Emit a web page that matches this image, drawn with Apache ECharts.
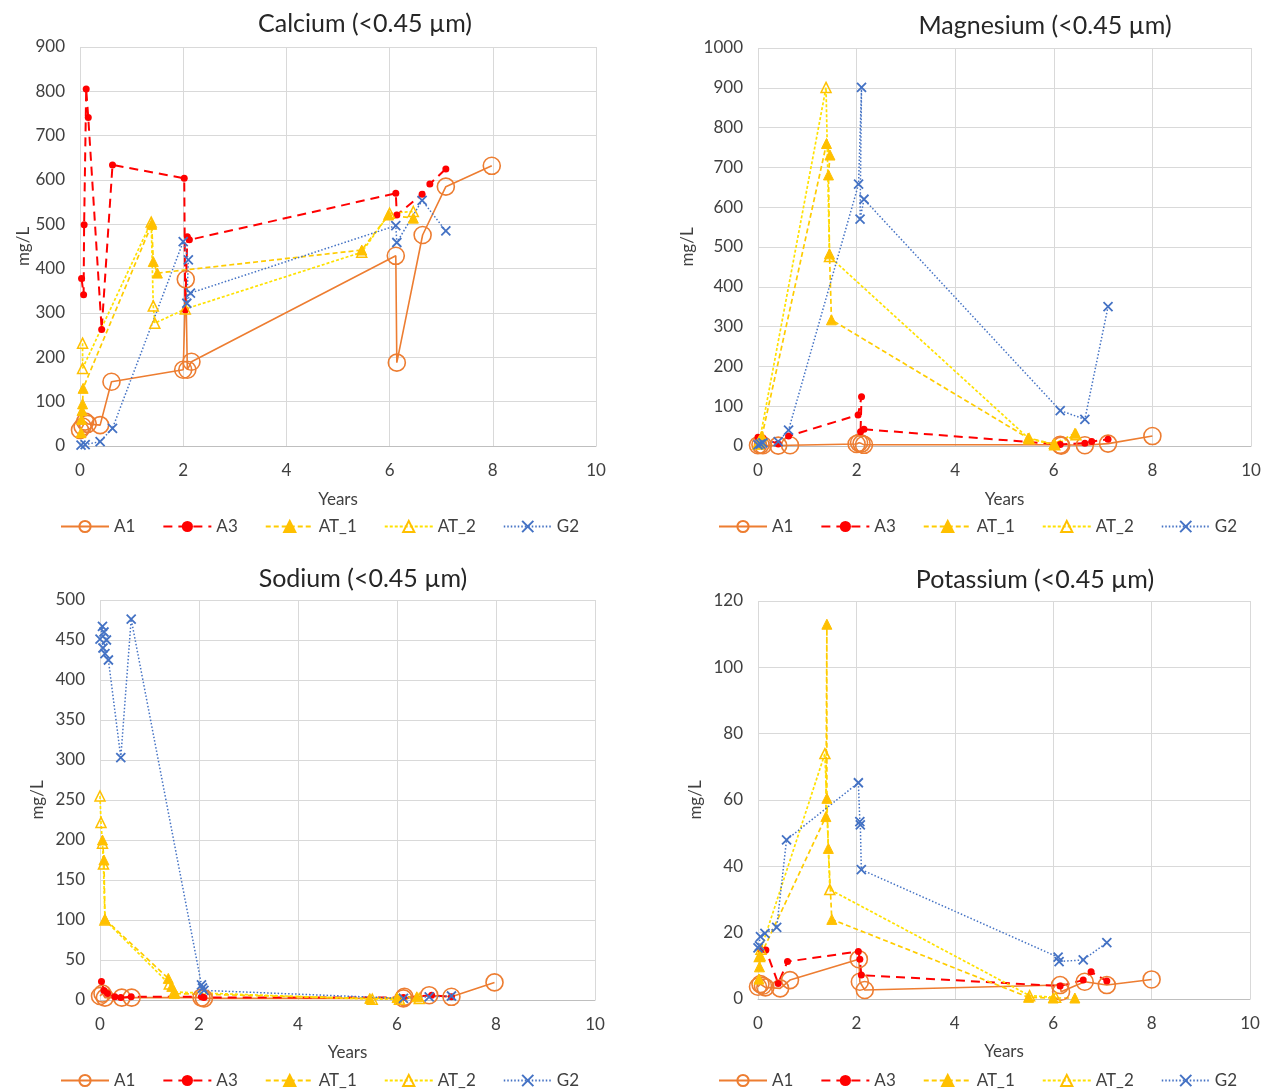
<!DOCTYPE html>
<html>
<head>
<meta charset="utf-8">
<script src="https://cdn.jsdelivr.net/npm/echarts@6/dist/echarts.min.js"></script>
<style>
html,body{margin:0;padding:0;background:#fff;}
#chart{width:1271px;height:1090px;}
</style>
</head>
<body>
<div id="chart"></div>
<script>
// ---------- DATA ----------
const seriesNames = ['A1', 'A3', 'AT_1', 'AT_2', 'G2'];
const panelTitles = ['Calcium (<0.45 µm)', 'Magnesium (<0.45 µm)', 'Sodium (<0.45 µm)', 'Potassium (<0.45 µm)'];
const yMax = [900, 1000, 500, 120];
const yStep = [100, 100, 50, 20];
const xTicks = [0, 2, 4, 6, 8, 10];

// Calcium
const caA1 = [[0.0,36],[0.05,44],[0.1,55],[0.15,50],[0.39,47],[0.61,145],[2.0,172],[2.05,376],[2.08,172],[2.16,190],[6.12,429],[6.14,188],[6.64,476],[7.09,585],[7.98,632]];
const caA3 = [[0.03,378],[0.07,341],[0.08,499],[0.12,805],[0.16,741],[0.42,263],[0.63,634],[2.02,604],[2.04,307],[2.08,472],[2.12,465],[6.12,570],[6.14,521],[6.63,568],[6.78,591],[7.09,625]];
const caAT1 = [[0.02,30],[0.03,60],[0.04,80],[0.05,95],[0.06,130],[1.39,500],[1.42,416],[1.5,390],[5.46,442],[5.98,521],[6.46,514]];
const caAT2 = [[0.05,232],[0.05,175],[1.38,505],[1.42,316],[1.45,277],[2.04,309],[5.46,437],[6.0,525],[6.46,529]];
const caG2 = [[0.02,2],[0.1,3],[0.39,10],[0.63,40],[2.0,461],[2.1,420],[2.07,322],[2.14,345],[6.12,497],[6.14,459],[6.63,554],[7.09,485]];

// Magnesium
const mgA1 = [[0.0,2],[0.05,3],[0.1,2],[0.41,1],[0.65,2],[2.0,5],[2.05,8],[2.1,6],[2.15,3],[6.13,3],[6.15,1],[6.63,2],[7.1,6],[8.0,25]];
const mgA3 = [[0.0,22],[0.1,20],[0.41,5],[0.62,25],[2.03,78],[2.1,124],[2.08,36],[2.15,42],[6.13,4],[6.63,7],[6.77,11],[7.1,17]];
const mgAT1 = [[0.02,5],[0.05,15],[0.08,25],[1.39,760],[1.46,731],[1.43,681],[1.45,483],[1.49,317],[5.48,20],[6.0,5],[6.43,32]];
const mgAT2 = [[0.0,5],[0.03,12],[1.38,901],[1.45,476],[5.5,18],[6.02,3],[6.45,28]];
const mgG2 = [[0.0,3],[0.05,5],[0.1,8],[0.41,11],[0.62,40],[2.04,658],[2.1,901],[2.07,570],[2.15,620],[6.13,89],[6.63,67],[7.1,350]];

// Sodium
const naA1 = [[0.0,5],[0.05,8],[0.1,3],[0.44,3],[0.64,3],[2.05,3],[2.1,2],[6.13,2],[6.15,4],[6.65,6],[7.1,4],[7.97,22]];
const naA3 = [[0.03,23],[0.08,12],[0.15,8],[0.3,4],[0.42,3],[0.63,4],[2.05,4],[2.1,3],[6.13,3],[6.7,6],[7.1,4]];
const naAT1 = [[0.05,200],[0.08,175],[0.1,101],[1.38,27],[1.45,17],[1.5,8],[5.45,2],[6.0,3],[6.4,4]];
const naAT2 = [[0.0,255],[0.02,222],[0.05,196],[0.07,170],[0.1,100],[1.4,20],[1.5,10],[5.5,1],[6.05,1],[6.45,2]];
const naG2 = [[0.0,451],[0.05,467],[0.08,460],[0.13,450],[0.06,440],[0.1,433],[0.17,425],[0.42,303],[0.63,476],[2.05,19],[2.07,15],[2.1,12],[6.13,2],[6.65,4],[7.1,5]];

// Potassium
const kA1 = [[0.0,3.7],[0.05,4.5],[0.1,4],[0.15,3.5],[0.45,3.2],[0.65,5.7],[2.05,12],[2.07,5.2],[2.17,2.7],[6.14,4.2],[6.16,2.2],[6.64,5.2],[7.09,4.2],[8.0,5.9]];
const kA3 = [[0.05,15],[0.16,14.8],[0.41,4.7],[0.6,11.3],[2.04,14.3],[2.07,12],[2.1,7.2],[6.14,3.9],[6.61,5.7],[6.77,8.2],[7.09,5.4]];
const kAT1 = [[0.02,6],[0.03,9.7],[0.05,13],[1.38,55],[1.4,113],[1.4,60.5],[1.43,45.4],[1.5,24],[5.5,0.5],[6.0,0.3],[6.44,0.3]];
const kAT2 = [[0.03,12.8],[0.06,15],[1.36,74],[1.46,33],[5.52,1],[6.05,0.5]];
const kG2 = [[0.0,15.4],[0.03,16],[0.05,18.8],[0.14,19.8],[0.38,21.6],[0.58,48],[2.04,65.2],[2.07,53.5],[2.08,52.5],[2.1,39],[6.1,12.6],[6.12,11.3],[6.61,11.8],[7.09,17]];

const panelData = [
  [caA1, caA3, caAT1, caAT2, caG2],
  [mgA1, mgA3, mgAT1, mgAT2, mgG2],
  [naA1, naA3, naAT1, naAT2, naG2],
  [kA1, kA3, kAT1, kAT2, kG2]
];

// ---------- LAYOUT / STYLE ----------
const FONT = 'Lato, "Open Sans", sans-serif';
const grids = [
  {left: 80, top: 47, width: 516, height: 399},
  {left: 758, top: 48, width: 493, height: 398},
  {left: 100, top: 600, width: 495, height: 400},
  {left: 758, top: 601, width: 492, height: 398}
];
const titlePos = [[360, 6], [1040, 8], [358, 561], [1030, 562]];
const legendPos = [[55, 513], [713, 513], [55, 1067], [713, 1067]];
const yNameGap = [42, 62, 54, 54];

const styles = {
  A1: {symbol: 'circle', symbolSize: 17,
       itemStyle: {color: 'rgba(255,255,255,0)', borderColor: '#ED7D31', borderWidth: 1.6},
       lineStyle: {color: '#ED7D31', width: 1.6, type: 'solid'}},
  A3: {symbol: 'circle', symbolSize: 7,
       itemStyle: {color: '#FF0000', borderColor: '#FF0000', borderWidth: 0},
       lineStyle: {color: '#FF0000', width: 2, type: [9, 6]}},
  AT_1: {symbol: 'triangle', symbolSize: 10,
       itemStyle: {color: '#FFC000', borderColor: '#FFC000', borderWidth: 1},
       lineStyle: {color: '#FFCC00', width: 1.7, type: [5, 3]}},
  AT_2: {symbol: 'triangle', symbolSize: 10,
       itemStyle: {color: 'rgba(255,255,255,0)', borderColor: '#FFC000', borderWidth: 1.5},
       lineStyle: {color: '#FFE100', width: 1.7, type: [3, 2]}},
  G2: {symbol: 'path://M0,0L10,10M10,0L0,10', symbolSize: 9,
       itemStyle: {color: 'rgba(255,255,255,0)', borderColor: '#4472C4', borderWidth: 1.8},
       lineStyle: {color: '#4472C4', width: 1.5, type: [1.5, 2]}}
};

const option = {
  animation: false,
  backgroundColor: '#ffffff',
  textStyle: {fontFamily: FONT},
  title: panelTitles.map((t, i) => ({
    text: t, left: titlePos[i][0], top: titlePos[i][1], textAlign: 'center',
    textStyle: {fontFamily: FONT, fontSize: 25, fontWeight: 'normal', color: '#262626'}
  })),
  legend: legendPos.map((p, i) => ({
    data: seriesNames, left: p[0], top: p[1], itemWidth: 48, itemHeight: 14, itemGap: 27,
    selectedMode: false,
    textStyle: {fontFamily: FONT, fontSize: 17, color: '#404040'}
  })),
  grid: grids.map(g => Object.assign({containLabel: false}, g)),
  xAxis: grids.map((g, i) => ({
    gridIndex: i, type: 'value', min: 0, max: 10, interval: 2,
    name: 'Years', nameLocation: 'middle', nameGap: i < 2 ? 45 : 44,
    nameTextStyle: {fontFamily: FONT, fontSize: 17, color: '#404040'},
    axisLine: {show: true, lineStyle: {color: '#BFBFBF', width: 1}},
    axisTick: {show: false},
    axisLabel: {fontFamily: FONT, fontSize: 17, color: '#404040', margin: 16},
    splitLine: {show: true, lineStyle: {color: '#D9D9D9', width: 1}}
  })),
  yAxis: grids.map((g, i) => ({
    gridIndex: i, type: 'value', min: 0, max: yMax[i], interval: yStep[i],
    name: 'mg/L', nameLocation: 'middle', nameGap: yNameGap[i], nameRotate: 90,
    nameTextStyle: {fontFamily: FONT, fontSize: 17, color: '#404040'},
    axisLine: {show: false},
    axisTick: {show: false},
    axisLabel: {fontFamily: FONT, fontSize: 17, color: '#404040', margin: 15,
                formatter: v => String(v)},
    splitLine: {show: true, lineStyle: {color: '#D9D9D9', width: 1}}
  })),
  series: []
};

panelData.forEach((arrs, pi) => {
  arrs.forEach((d, si) => {
    const name = seriesNames[si];
    const st = styles[name];
    option.series.push({
      name: name, type: 'line', xAxisIndex: pi, yAxisIndex: pi,
      data: d, showAllSymbol: true, clip: false,
      symbol: st.symbol, symbolSize: st.symbolSize,
      itemStyle: st.itemStyle, lineStyle: st.lineStyle,
      emphasis: {disabled: true}
    });
  });
});

const chart = echarts.init(document.getElementById('chart'), null, {renderer: 'canvas'});
chart.setOption(option);
</script>
</body>
</html>
